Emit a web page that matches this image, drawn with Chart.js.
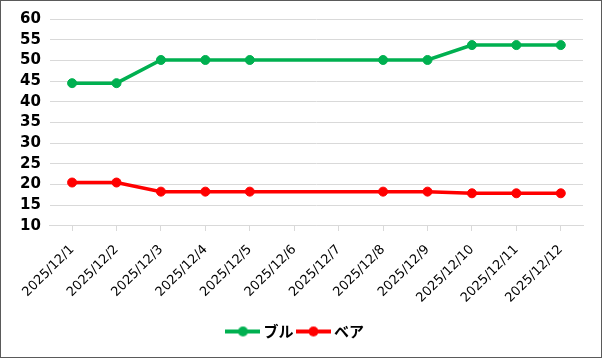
<!DOCTYPE html>
<html><head><meta charset="utf-8">
<script src="https://cdn.jsdelivr.net/npm/chart.js@4"></script>
<style>
html,body{margin:0;padding:0;background:#fff;}
#wrap{width:600px;height:356px;border:1px solid #5a5a5a;position:relative;background:#fff;}
</style></head><body>
<div id="wrap"><canvas id="c" width="600" height="356"></canvas></div>
<script>
const categories = ["2025/12/1","2025/12/2","2025/12/3","2025/12/4","2025/12/5","2025/12/6","2025/12/7","2025/12/8","2025/12/9","2025/12/10","2025/12/11","2025/12/12"];
const bullValues = [44.5,44.5,50.1,50.1,50.1,null,null,50.1,50.1,53.7,53.7,53.7];
const bearValues = [20.5,20.5,18.3,18.3,18.3,null,null,18.3,18.3,17.9,17.9,17.9];
const seriesNames = ["ブル","ベア"];
const yTicks = [10,15,20,25,30,35,40,45,50,55,60];

function legendIcon(color){
  const cv=document.createElement('canvas');cv.width=35;cv.height=12;
  const g=cv.getContext('2d');
  g.strokeStyle=color;g.lineWidth=4;g.beginPath();g.moveTo(0,6);g.lineTo(35,6);g.stroke();
  g.fillStyle=color;g.beginPath();g.arc(17.5,6,5,0,Math.PI*2);g.fill();
  return cv;
}
const green='#00b050', red='#ff0000';
new Chart(document.getElementById('c'),{
  type:'line',
  data:{labels:categories,datasets:[
    {label:seriesNames[0],data:bullValues,borderColor:green,backgroundColor:green,borderWidth:3.5,pointRadius:4.5,pointBorderWidth:1,pointHoverRadius:4.5,spanGaps:true,tension:0,pointStyle:'circle'},
    {label:seriesNames[1],data:bearValues,borderColor:red,backgroundColor:red,borderWidth:3.5,pointRadius:4.5,pointBorderWidth:1,pointHoverRadius:4.5,spanGaps:true,tension:0,pointStyle:'circle'}
  ]},
  options:{
    responsive:false,animation:false,devicePixelRatio:1,
    layout:{padding:{left:10,right:18,top:15,bottom:8}},
    plugins:{
      legend:{position:'bottom',labels:{usePointStyle:true,pointStyleWidth:26,
        generateLabels:(chart)=>chart.data.datasets.map((d,i)=>({text:d.label,pointStyle:legendIcon(d.borderColor),fillStyle:d.borderColor,strokeStyle:d.borderColor,lineWidth:0,datasetIndex:i,fontColor:'#000'})),
        font:{family:'"Noto Sans CJK JP"',size:15,weight:'bold'},color:'#000',padding:7}},
      tooltip:{enabled:false}
    },
    scales:{
      x:{offset:true,grid:{drawOnChartArea:false,drawTicks:true,tickLength:5,color:'#d9d9d9'},border:{color:'#d9d9d9'},
        ticks:{maxRotation:45,minRotation:45,autoSkip:false,color:'#000',font:{family:'"DejaVu Sans"',size:13},padding:11}},
      y:{min:10,max:60,afterBuildTicks:(s)=>{s.ticks=yTicks.map(v=>({value:v}));},
        grid:{color:'#d9d9d9',drawTicks:false},border:{display:false},
        ticks:{autoSkip:false,color:'#000',font:{family:'"DejaVu Sans"',size:15,weight:'bold'},padding:9}}
    }
  }
});
</script></body></html>
